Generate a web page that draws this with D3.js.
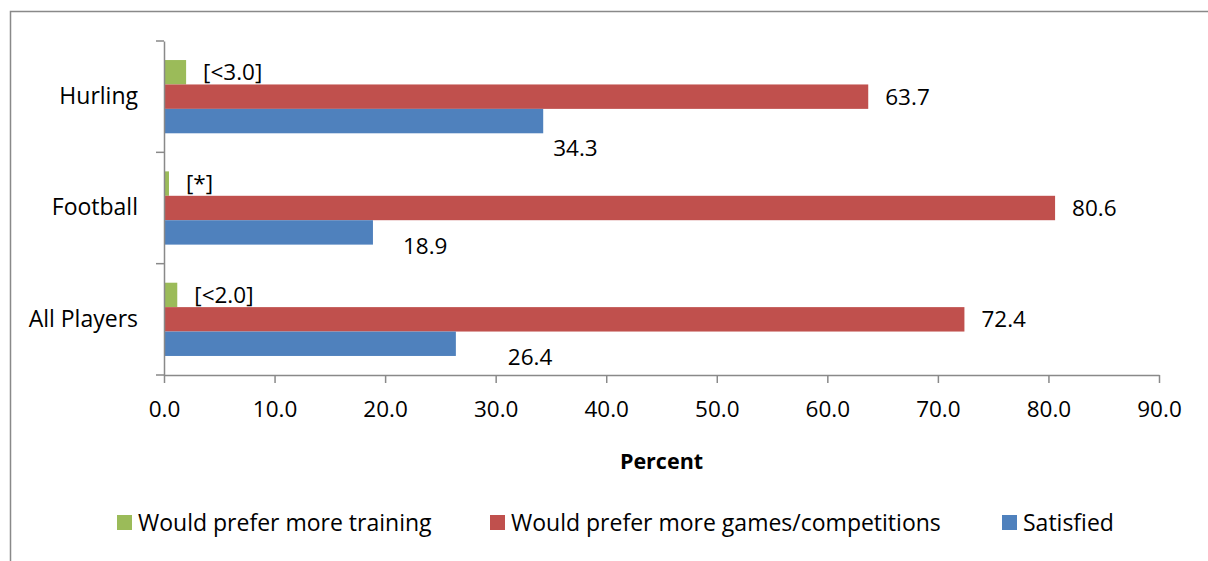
<!DOCTYPE html>
<html><head><meta charset="utf-8">
<script src="https://cdn.jsdelivr.net/npm/d3@7"></script>
<style>
html,body{margin:0;padding:0;background:#fff;}
svg{display:block;font-family:"Open Sans",sans-serif;}
</style></head>
<body>
<svg id="chart" width="1208" height="561"></svg>
<script>
const categories = ["Hurling", "Football", "All Players"];
const seriesNames = ["Would prefer more training", "Would prefer more games/competitions", "Satisfied"];
const training = [2.0, 0.45, 1.2];
const games = [63.7, 80.6, 72.4];
const satisfied = [34.3, 18.9, 26.4];
const trainingLabels = ["[<3.0]", "[*]", "[<2.0]"];
const gamesLabels = ["63.7", "80.6", "72.4"];
const satisfiedLabels = ["34.3", "18.9", "26.4"];
const xTicks = [0, 10, 20, 30, 40, 50, 60, 70, 80, 90];
const colors = ["#9BBB59", "#C0504D", "#4F81BD"];

// label placement nudges (as in reference)
const satisfiedNudge = [[10, 27], [30, 14], [52, 13]];

(function () {
const svg = d3.select("#chart");
const axisColor = "#898989";
const numSize = 22.5, wordSize = 23;

svg.append("rect").attr("x", 10.5).attr("y", 11.5).attr("width", 1400).attr("height", 700)
  .attr("fill", "none").attr("stroke", axisColor).attr("stroke-width", 1.5);

const pL = 164, pR = 1159, pT = 41, pB = 375;
const x = d3.scaleLinear().domain([0, 90]).range([pL, pR]);
const y = d3.scaleBand().domain(categories).range([pT, pB]).padding(0);
const inner = d3.scaleBand().domain(d3.range(3)).range([0, y.bandwidth()]).paddingInner(0).paddingOuter(0.78);

const seriesVals = [training, games, satisfied];
const seriesLabels = [trainingLabels, gamesLabels, satisfiedLabels];

const g = svg.append("g");
seriesVals.forEach((vals, s) => {
  g.selectAll(null).data(categories).enter().append("rect")
    .attr("x", x(0))
    .attr("y", c => y(c) + inner(s))
    .attr("width", (c, i) => x(vals[i]) - x(0))
    .attr("height", inner.bandwidth())
    .attr("fill", colors[s]);
});

seriesVals.forEach((vals, s) => {
  g.selectAll(null).data(categories).enter().append("text")
    .attr("x", (c, i) => x(vals[i]) + (s === 2 ? satisfiedNudge[i][0] : 17))
    .attr("y", (c, i) => y(c) + inner(s) + inner.bandwidth() / 2 + (s === 2 ? satisfiedNudge[i][1] : 0))
    .attr("dy", "0.35em")
    .attr("font-size", numSize)
    .attr("fill", "#000")
    .text((c, i) => seriesLabels[s][i]);
});

const xAxis = d3.axisBottom(x).tickValues(xTicks).tickFormat(d3.format(".1f")).tickSize(8).tickSizeOuter(0);
const xg = svg.append("g").attr("transform", `translate(0,${pB})`).call(xAxis);
xg.select(".domain").attr("stroke", axisColor).attr("stroke-width", 1.5);
xg.selectAll(".tick line").attr("stroke", axisColor).attr("stroke-width", 1.5);
xg.selectAll(".tick text").attr("font-size", numSize).attr("font-family", "Open Sans").attr("fill", "#000").attr("y", 26).attr("dy", "0.71em");

const yAxis = d3.axisLeft(y).tickSize(0).tickPadding(26);
const yg = svg.append("g").attr("transform", `translate(${pL},0)`).call(yAxis);
yg.select(".domain").attr("stroke", axisColor).attr("stroke-width", 1.5);
yg.selectAll(".tick text").attr("font-size", wordSize).attr("font-family", "Open Sans").attr("fill", "#000");
const bounds = categories.map(c => y(c)).concat([pB]);
svg.append("g").selectAll("line").data(bounds).enter().append("line")
  .attr("x1", pL - 8).attr("x2", pL).attr("y1", d => d).attr("y2", d => d)
  .attr("stroke", axisColor).attr("stroke-width", 1.5);

svg.append("text").attr("x", (pL + pR) / 2).attr("y", 461).attr("dy", "0.35em")
  .attr("text-anchor", "middle").attr("font-size", 21.5).attr("font-weight", "bold").text("Percent");

const legendX = [117, 490, 1002];
const lg = svg.append("g");
seriesNames.forEach((n, i) => {
  lg.append("rect").attr("x", legendX[i]).attr("y", 515).attr("width", 15).attr("height", 15).attr("fill", colors[i]);
  lg.append("text").attr("x", legendX[i] + 21).attr("y", 522.5).attr("dy", "0.35em")
    .attr("font-size", wordSize).text(n);
});
})();
</script>
</body></html>
